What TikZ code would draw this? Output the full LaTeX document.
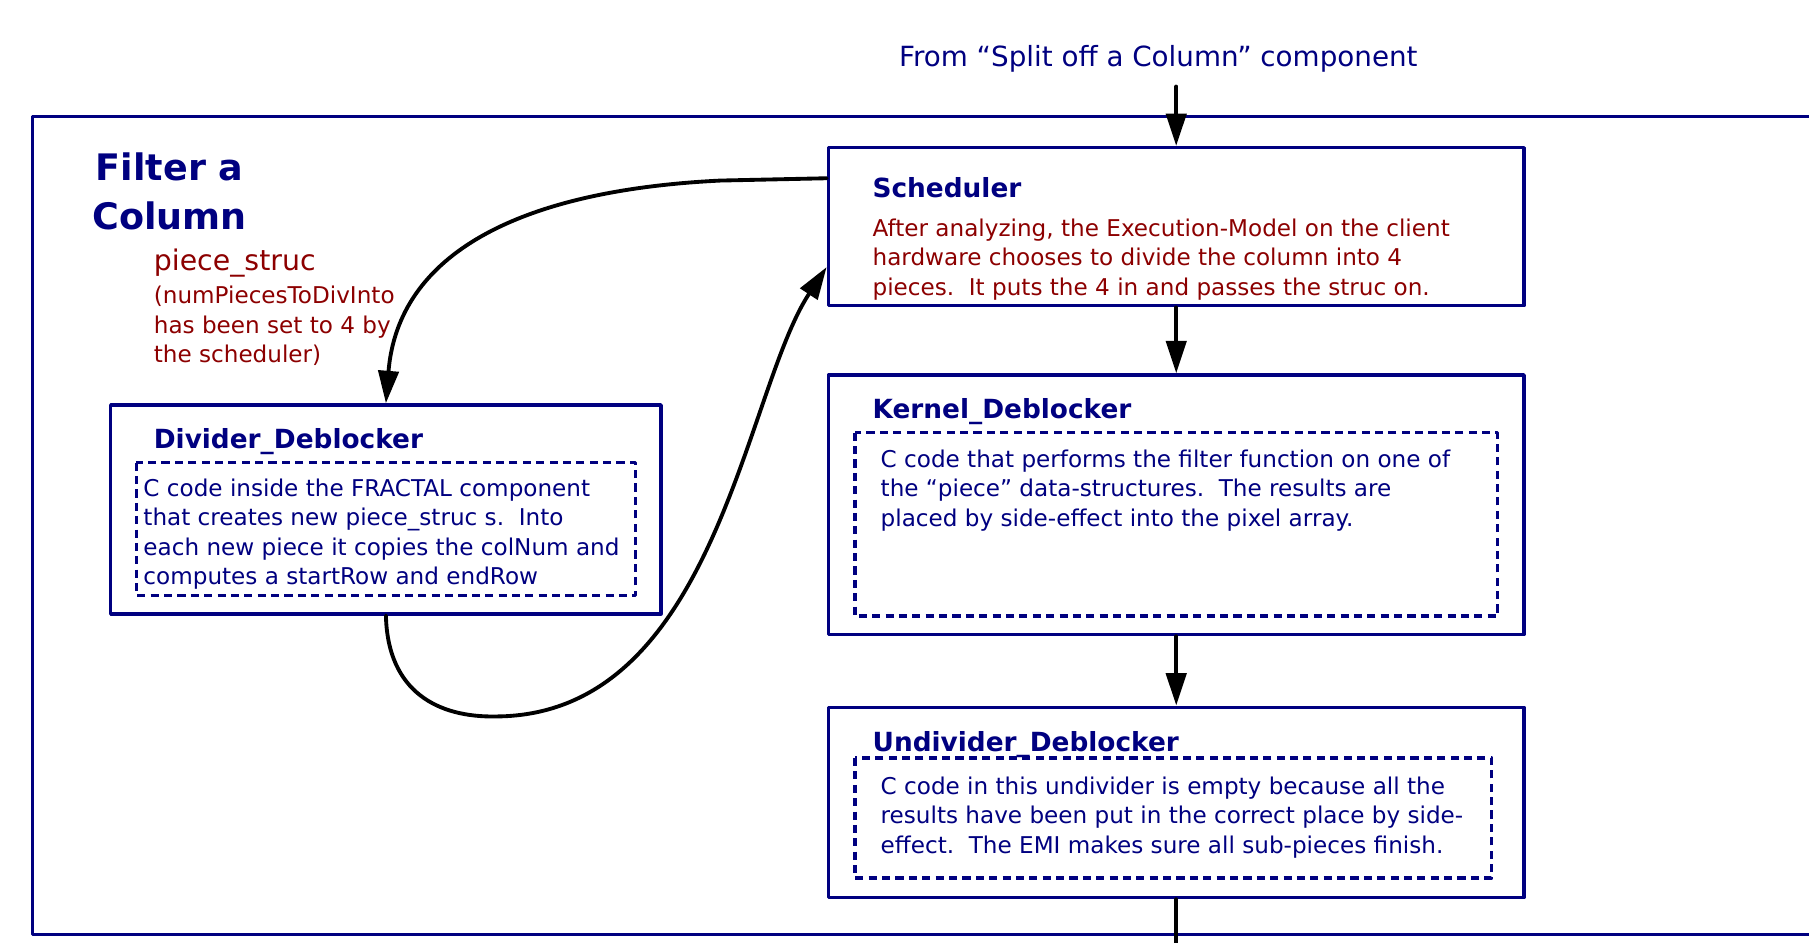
\documentclass[tikz,border=0pt]{standalone}
\usepackage{fontspec}
\setmainfont{DejaVu Sans}
\usepackage{xcolor}
\usepackage{tikz}
\definecolor{navyblue}{RGB}{0,0,128}
\definecolor{darkred}{RGB}{140,0,0}
\tikzset{>=latex}
\usetikzlibrary{arrows.meta}
\usetikzlibrary{calc}
\tikzset{
  compbox/.style={draw=navyblue, line width=1.7pt, minimum width=12.06cm},
  codebox/.style={draw=navyblue, line width=1.6pt, line cap=butt, dash pattern=on 4pt off 2.6pt},
  boxtitle/.style={anchor=west, inner sep=0pt, text=navyblue, font=\fontsize{13}{15}\selectfont\bfseries},
  bodytext/.style={anchor=west, inner sep=0pt, align=left, text=navyblue, font=\fontsize{11.4}{14.5}\selectfont},
  flow/.style={-{Triangle[length=16pt,width=10pt]}, line width=1.9pt},
}

\begin{document}
\begin{tikzpicture}[line cap=round,line join=round,x=1.0cm,y=1.0cm]
			\useasboundingbox (0,0) rectangle (31.36,-16.34);
			\clip (0,0) rectangle (31.36,-16.34);
			% outer component
			\draw[navyblue, line width=1.7pt] (0.56,-2.02) rectangle (32.,-16.2);
			\node[font=\fontsize{18}{24}\selectfont\bfseries, text=navyblue, align=center, inner sep=0pt] (filtertitle) at (2.94,-3.32) {Filter a\\Column};
			\node[anchor=west, inner sep=0pt, text=darkred, font=\fontsize{14}{16}\selectfont] (piecestruc) at (2.66,-4.56) {piece\_struc};
			\node[bodytext, text=darkred] (piecenote) at (2.66,-5.65) {(numPiecesToDivInto\\has been set to 4 by\\the scheduler)};
			\node[font=\fontsize{13.7}{16}\selectfont, text=navyblue, inner sep=0pt] (fromlabel) at (20.08,-1.02) {From “Split off a Column” component};
			% boxes
			\node[compbox, minimum height=2.74cm] (sched) at (20.39,-3.93) {};
			\node[compbox, minimum height=4.5cm] (kernel) at (20.39,-8.75) {};
			\node[compbox, minimum height=3.3cm] (undiv) at (20.39,-13.91) {};
			\node[compbox, minimum width=9.54cm, minimum height=3.62cm] (divider) at (6.69,-8.83) {};
			\draw[codebox] (14.82,-7.5) rectangle (25.96,-10.68);
			\draw[codebox] (14.82,-13.14) rectangle (25.86,-15.22);
			\draw[codebox] (2.36,-8.02) rectangle (11.02,-10.32);
			% texts
			\node[boxtitle] (schedtitle) at (15.12,-3.26) {Scheduler};
			\node[bodytext, text=darkred] (schednote) at (15.12,-4.5) {After analyzing, the Execution-Model on the client\\hardware chooses to divide the column into 4\\pieces.\ \ It puts the 4 in and passes the struc on.};
			\node[boxtitle] (kerneltitle) at (15.12,-7.14) {Kernel\_Deblocker};
			\node[bodytext] (kernelnote) at (15.26,-8.5) {C code that performs the filter function on one of\\the “piece” data-structures.\ \ The results are\\placed by side-effect into the pixel array.};
			\node[boxtitle] (undivtitle) at (15.12,-12.9) {Undivider\_Deblocker};
			\node[bodytext] (undivnote) at (15.26,-14.17) {C code in this undivider is empty because all the\\results have been put in the correct place by side-\\effect.\ \ The EMI makes sure all sub-pieces finish.};
			\node[boxtitle] (dividertitle) at (2.66,-7.66) {Divider\_Deblocker};
			\node[bodytext] (dividernote) at (2.48,-9.26) {C code inside the FRACTAL component\\that creates new piece\_struc s.\ \ Into\\each new piece it copies the colNum and\\computes a startRow and endRow};
			% connectors
			\coordinate (fromsplit) at (20.39,-1.5);
			\coordinate (outlet) at (20.39,-16.6);
			\draw[flow] (fromsplit) -- (sched.north);
			\draw[flow] (sched) -- (kernel);
			\draw[flow] (kernel) -- (undiv);
			\draw[line width=1.9pt] (undiv.south) -- (outlet);
			\draw[flow] ($(sched.north west)!0.2!(sched.south west)$) -- ++(-1.84,-0.04) .. controls (9.0,-3.3) and (6.9,-4.4) .. (divider.north);
			\draw[flow] (divider.south) .. controls (6.72,-12.0) and (7.6,-12.44) .. (8.6,-12.42) .. controls (12.4,-12.4) and (12.9,-6.8) .. ($(sched.north west)!0.75!(sched.south west)$);
			\end{tikzpicture}
\end{document}
